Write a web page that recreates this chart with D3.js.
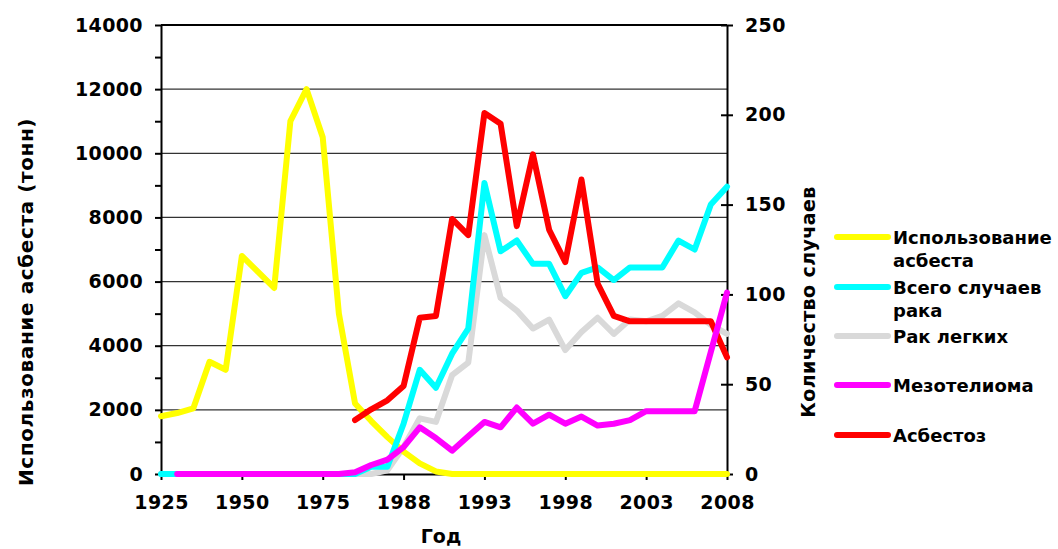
<!DOCTYPE html>
<html>
<head>
<meta charset="utf-8">
<script src="https://cdn.jsdelivr.net/npm/d3@7"></script>
<style>
  body { margin: 0; background: #fff; }
  svg { display: block; font-family: "DejaVu Sans", Verdana, sans-serif; font-weight: bold; }
  .axis path, .axis line { stroke: #000; stroke-width: 2; }
</style>
</head>
<body>
<svg id="chart" width="1058" height="549"></svg>
<script>
// ── Data ─────────────────────────────────────────────────────────────────────
const years = ['1925','1930','1935','1940','1945','1950','1955','1960','1965','1970',
               '1975','1979','1982','1985','1987','1988','1989','1990','1991','1992',
               '1993','1994','1995','1996','1997','1998','1999','2000','2001','2002',
               '2003','2004','2005','2006','2007','2008'];
const tickYears = ['1925','1950','1975','1988','1993','1998','2003','2008'];

// tonnes, left axis
const asbestosUse = [1800,1900,2050,3500,3250,6800,6300,5800,11000,12000,
                     10500,5000,2200,1650,1150,700,330,80,0,0,
                     0,0,0,0,0,0,0,0,0,0,
                     0,0,0,0,0,0];
// cases, right axis
const totalCancer = [0,0,0,0,0,0,0,0,0,0,
                     0,0,0,4,4,28,58,48,67,81,
                     162,124,130,117,117,99,112,115,108,115,
                     115,115,130,125,150,160];
const lungCancer  = [0,0,0,0,0,0,0,0,0,0,
                     0,0,0,0,2,15,31,29,55,62,
                     133,98,91,81,86,69,79,87,78,86,
                     85,88,95,90,83,78];
const mesothelioma = [null,0,0,0,0,0,0,0,0,0,
                      0,0,1,5,8,15,26,20,13,21,
                      29,26,37,28,33,28,32,27,28,30,
                      35,35,35,35,68,101];
const asbestosis  = [null,null,null,null,null,null,null,null,null,null,
                     null,null,30,36,41,49,87,88,142,133,
                     201,195,138,178,136,118,164,106,88,85,
                     85,85,85,85,85,65];

const SERIES = [
  { label: ['Использование', 'асбеста'], color: '#ffff00', values: asbestosUse, axis: 'left' },
  { label: ['Всего случаев', 'рака'],    color: '#00ffff', values: totalCancer, axis: 'right' },
  { label: ['Рак легких'],               color: '#d9d9d9', values: lungCancer,  axis: 'right' },
  { label: ['Мезотелиома'],              color: '#ff00ff', values: mesothelioma, axis: 'right' },
  { label: ['Асбестоз'],                 color: '#ff0000', values: asbestosis,  axis: 'right' },
];
// drawing order (bottom → top)
const DRAW_ORDER = [2, 0, 1, 4, 3];

// ── Layout ───────────────────────────────────────────────────────────────────
const X0 = 161, X1 = 727, Y0 = 474, Y1 = 25;

const svg = d3.select('#chart');

const x = d3.scalePoint().domain(years).range([X0, X1]);
const yL = d3.scaleLinear().domain([0, 14000]).range([Y0, Y1]);
const yR = d3.scaleLinear().domain([0, 250]).range([Y0, Y1]);

function styleAxis(g) {
  g.attr('font-family', null).attr('font-size', null);
  g.selectAll('text')
    .attr('font-size', 19)
    .attr('font-weight', 'bold')
    .attr('letter-spacing', 0.4)
    .attr('fill', '#000');
}

// gridlines (left major ticks)
svg.append('g')
  .selectAll('line')
  .data(d3.range(2000, 14001, 2000))
  .join('line')
  .attr('x1', X0).attr('x2', X1)
  .attr('y1', d => yL(d)).attr('y2', d => yL(d))
  .attr('stroke', d => d === 14000 ? '#000' : '#333')
  .attr('stroke-width', d => d === 14000 ? 2 : 1.3);

// left axis minor ticks
svg.append('g')
  .attr('class', 'axis')
  .attr('transform', `translate(${X0},0)`)
  .call(d3.axisLeft(yL).tickValues(d3.range(1000, 14000, 2000)).tickSize(6).tickFormat(''))
  .select('.domain').remove();

// left axis
svg.append('g')
  .attr('class', 'axis')
  .attr('transform', `translate(${X0},0)`)
  .call(d3.axisLeft(yL).tickValues(d3.range(0, 14001, 2000)).tickSize(6).tickPadding(12)
        .tickSizeOuter(0).tickFormat(d3.format('d')))
  .call(styleAxis);

// right axis (ticks cross the axis line)
svg.append('g')
  .attr('class', 'axis')
  .attr('transform', `translate(${X1},0)`)
  .call(d3.axisLeft(yR).tickValues(d3.range(0, 251, 50)).tickSize(6).tickFormat(''))
  .select('.domain').remove();
svg.append('g')
  .attr('class', 'axis')
  .attr('transform', `translate(${X1},0)`)
  .call(d3.axisRight(yR).tickValues(d3.range(0, 251, 50)).tickSize(6).tickPadding(12)
        .tickSizeOuter(0).tickFormat(d3.format('d')))
  .call(styleAxis);

// bottom axis
svg.append('g')
  .attr('class', 'axis')
  .attr('transform', `translate(0,${Y0})`)
  .call(d3.axisBottom(x).tickValues(tickYears).tickSize(6).tickPadding(16).tickSizeOuter(0))
  .call(styleAxis);

// ── Lines ────────────────────────────────────────────────────────────────────
const linesG = svg.append('g');
DRAW_ORDER.forEach(i => {
  const s = SERIES[i];
  const yS = s.axis === 'left' ? yL : yR;
  const line = d3.line()
    .defined(d => d != null)
    .x((d, j) => x(years[j]))
    .y(d => yS(d));
  linesG.append('path')
    .datum(s.values)
    .attr('d', line)
    .attr('fill', 'none')
    .attr('stroke', s.color)
    .attr('stroke-width', 6)
    .attr('stroke-linejoin', 'round')
    .attr('stroke-linecap', 'round');
});

// ── Axis titles ──────────────────────────────────────────────────────────────
svg.append('text')
  .attr('transform', 'translate(33,302) rotate(-90)')
  .attr('text-anchor', 'middle')
  .attr('font-size', 20)
  .attr('letter-spacing', 0.6)
  .text('Использование асбеста (тонн)');

svg.append('text')
  .attr('transform', 'translate(815,302) rotate(-90)')
  .attr('text-anchor', 'middle')
  .attr('font-size', 19)
  .attr('letter-spacing', 0.4)
  .text('Количество случаев');

svg.append('text')
  .attr('x', 441).attr('y', 543)
  .attr('text-anchor', 'middle')
  .attr('font-size', 19)
  .text('Год');

// ── Legend ───────────────────────────────────────────────────────────────────
const legendY = [237, 287, 336, 385, 435];
const legend = svg.append('g');
SERIES.forEach((s, i) => {
  const g = legend.append('g').attr('transform', `translate(0,${legendY[i]})`);
  g.append('line')
    .attr('x1', 837).attr('x2', 888)
    .attr('stroke', s.color).attr('stroke-width', 6)
    .attr('stroke-linecap', 'round');
  const t = g.append('text')
    .attr('x', 893).attr('y', 7)
    .attr('font-size', 18);
  s.label.forEach((ln, k) => {
    t.append('tspan').attr('x', 893).attr('dy', k === 0 ? 0 : 23).text(ln);
  });
});
</script>
</body>
</html>
